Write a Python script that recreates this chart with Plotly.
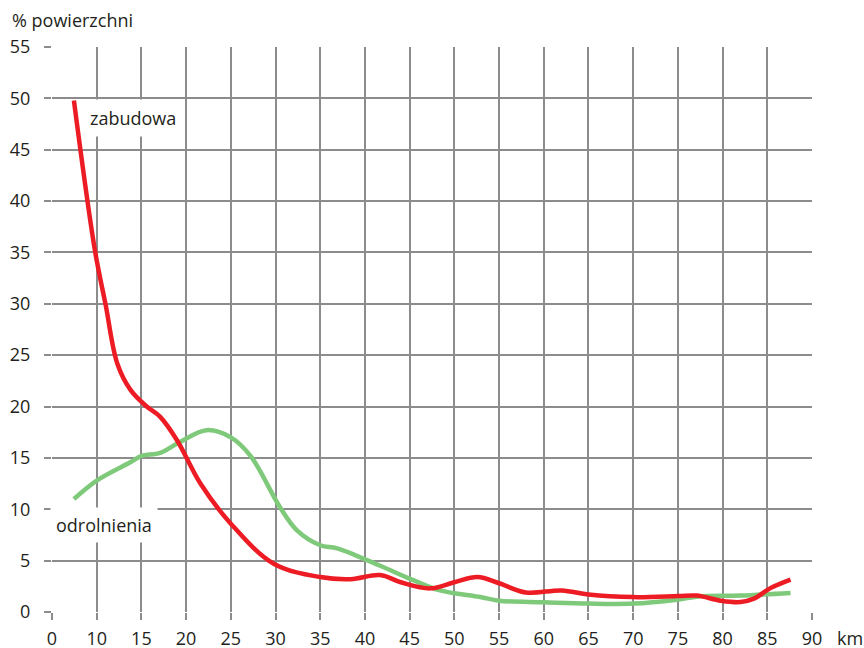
import plotly.graph_objects as go

# x values are in axis units (the original axis labels the first gridline "0", then 10, 15, ... 90)
red_x = [7.45, 9.8, 11.0, 12.3, 13.8, 15.6, 17.1, 19.0, 21.6, 25.0, 29.8, 35.0, 38.4, 41.7, 44.0, 47.3, 50.0, 52.6, 55.0, 58.0, 62.0, 65.0, 70.0, 75.0, 77.1, 79.8, 82.0, 83.5, 85.3, 87.6]
red_y = [49.8, 35.2, 29.9, 24.2, 21.6, 20.0, 19.0, 16.7, 12.5, 8.6, 4.7, 3.4, 3.2, 3.6, 2.9, 2.3, 2.9, 3.4, 2.8, 1.9, 2.1, 1.7, 1.45, 1.55, 1.6, 1.1, 0.97, 1.3, 2.3, 3.15]

green_x = [7.45, 10.0, 13.8, 15.0, 17.1, 19.3, 22.3, 25.0, 27.2, 30.5, 32.4, 35.0, 36.9, 41.7, 45.4, 48.4, 52.9, 55.0, 60.0, 65.0, 70.0, 74.9, 77.5, 82.0, 87.6]
green_y = [11.0, 12.8, 14.6, 15.2, 15.5, 16.55, 17.7, 17.0, 15.2, 10.2, 7.95, 6.5, 6.2, 4.5, 3.1, 2.1, 1.46, 1.1, 0.95, 0.82, 0.82, 1.2, 1.53, 1.6, 1.85]

tick_vals = [5, 10, 15, 20, 25, 30, 35, 40, 45, 50, 55, 60, 65, 70, 75, 80, 85, 90]
tick_text = ["0", "10", "15", "20", "25", "30", "35", "40", "45", "50", "55", "60", "65", "70", "75", "80", "85", "90"]
y_ticks = list(range(0, 56, 5))

FONT = "Open Sans"
TXT = "#231f20"
GRID = "#8c8c8c"

fig = go.Figure()
fig.add_trace(go.Scatter(x=green_x, y=green_y, mode="lines",
                         line=dict(color="#7fc97a", width=4.5, shape="spline", smoothing=1.0),
                         hoverinfo="skip"))
fig.add_trace(go.Scatter(x=red_x, y=red_y, mode="lines",
                         line=dict(color="#ed1c24", width=4.5, shape="spline", smoothing=1.0),
                         hoverinfo="skip"))

fig.add_annotation(x=14.1, y=48.1, text="zabudowa", showarrow=False,
                   bgcolor="white", borderpad=6, font=dict(size=18, color=TXT, family=FONT))
fig.add_annotation(x=10.85, y=8.44, text="odrolnienia", showarrow=False,
                   bgcolor="white", borderpad=5, font=dict(size=18, color=TXT, family=FONT))
fig.add_annotation(xref="paper", yref="paper", x=-0.055, y=1.047, xanchor="left", yanchor="middle",
                   text="% powierzchni", showarrow=False, font=dict(size=18, color=TXT, family=FONT))
fig.add_annotation(xref="paper", yref="paper", x=1.03, y=-0.046, xanchor="left", yanchor="middle",
                   text="km", showarrow=False, font=dict(size=18, color=TXT, family=FONT))

fig.update_layout(
    width=864, height=648,
    margin=dict(l=52, r=52, t=47, b=36, autoexpand=False),
    paper_bgcolor="white", plot_bgcolor="white",
    showlegend=False,
    font=dict(family=FONT, size=18, color=TXT),
    xaxis=dict(range=[5, 90], tickvals=tick_vals, ticktext=tick_text,
               showgrid=True, gridcolor=GRID, gridwidth=1.5,
               ticks="outside", ticklen=7, tickcolor=GRID, tickwidth=1.5,
               showline=False, zeroline=False, ticklabelstandoff=3,
               tickfont=dict(size=18, color=TXT, family=FONT)),
    yaxis=dict(range=[0, 55], tickvals=y_ticks,
               showgrid=True, gridcolor=GRID, gridwidth=1.5,
               ticks="outside", ticklen=7, tickcolor=GRID, tickwidth=1.5,
               showline=False, zeroline=False, ticklabelstandoff=10,
               tickfont=dict(size=18, color=TXT, family=FONT)),
)

fig.write_html("out.html", config={"displayModeBar": False},
               post_script="document.body.style.margin='0';document.body.style.overflow='hidden';")
